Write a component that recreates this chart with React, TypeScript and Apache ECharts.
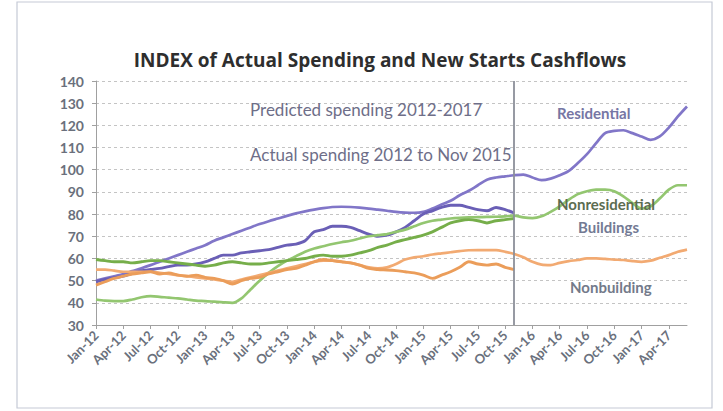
import React, { useEffect, useRef } from "react";
import * as echarts from "echarts";

const monthNames = ["Jan", "Feb", "Mar", "Apr", "May", "Jun", "Jul", "Aug", "Sep", "Oct", "Nov", "Dec"];
const years = ["12", "13", "14", "15", "16", "17"];
const lastMonthIndex = 65; // Jun-17
const categories: string[] = [];
for (const y of years) for (const m of monthNames) categories.push(`${m}-${y}`);
categories.length = lastMonthIndex + 1;

const cutoffCategory = "Nov-15";

const residentialPredicted = [
  50, 51, 52, 53, 54.3, 55.6, 57, 58.5, 60, 61.5, 63, 64.5,
  66, 68, 69.5, 71, 72.5, 74, 75.5, 76.8, 78, 79.2, 80.3, 81.2,
  82, 82.7, 83.2, 83.3, 83.2, 82.9, 82.5, 82, 81.5, 81, 80.7, 80.6,
  81, 82.5, 84.3, 86, 88.5, 90.5, 93, 95.5, 96.5, 97, 97.5, 97.8,
  96.5, 95.3, 96, 97.5, 99.5, 103, 107, 112, 116.5, 117.5, 117.8, 116.5,
  115, 113.5, 115, 119, 124, 128.5,
];
const residentialActual = [
  49.5, 50.5, 51.3, 52, 53.3, 54.5, 55, 55.5, 56.3, 57, 57, 57.5,
  58.5, 60, 61.5, 61.5, 62.5, 63, 63.5, 64, 65, 66, 66.5, 68,
  72, 73, 74.5, 74.5, 74, 72.5, 71, 70, 70.5, 72, 74, 77,
  80, 81.5, 83, 84, 84, 83, 82, 81.5, 83, 82, 80.5,
];
const nonresPredicted = [
  41.5, 41, 40.8, 40.8, 41.5, 42.5, 43, 42.7, 42.3, 42, 41.5, 41,
  40.8, 40.5, 40.2, 40, 42, 46, 50, 53.5, 56.5, 59, 61, 63,
  64.5, 65.5, 66.5, 67.3, 68, 69, 70, 70.5, 71, 72, 73, 74.5,
  76, 77, 77.5, 78, 78.3, 78.5, 78.6, 78.7, 78.8, 79, 79.3, 78.5,
  78.2, 79, 81, 83.5, 86.5, 89, 90.3, 91, 91, 90.3, 88, 85,
  82.5, 83.5, 87, 91, 93, 93,
];
const nonresActual = [
  59.5, 59, 58.5, 58.5, 58, 58.5, 59, 59, 58.5, 58, 57.5, 57,
  56.5, 57, 58, 58.5, 58, 57.5, 57.5, 58, 58.5, 59, 59.5, 60,
  61, 61.5, 61, 61, 61.5, 62.5, 63.5, 65, 66, 67.5, 68.5, 69.5,
  70.5, 72, 74, 76, 77, 77.5, 77, 76, 77, 77.5, 78,
];
const nonbuildingPredicted = [
  55, 55, 54.5, 54, 54, 54, 54, 53.5, 53, 52.5, 52, 51.5,
  51, 50.5, 50, 49.5, 50.5, 51.5, 52.5, 53.5, 54.5, 55.5, 56.5, 57.5,
  58.5, 59, 59, 58.5, 58, 57, 56, 55.5, 56, 57.5, 59.5, 60.5,
  61, 61.8, 62.3, 62.8, 63.3, 63.7, 63.8, 63.8, 63.8, 63, 62, 60.5,
  58.5, 57.2, 57, 58, 58.8, 59.3, 60, 60, 59.8, 59.5, 59.3, 58.8,
  58.5, 59, 60.3, 61.5, 63, 64,
];
const nonbuildingActual = [
  48, 49.5, 51, 52, 53, 53.5, 54, 53, 53.5, 52.5, 52, 52.5,
  51.5, 51, 50, 48.5, 50, 51, 51.5, 53, 54, 55, 55.5, 57,
  58.5, 59.5, 59, 58.5, 58, 57, 55.5, 55, 54.8, 54.5, 54, 53.5,
  52.5, 51, 52.5, 54, 56, 58.5, 57.5, 57, 57.5, 56, 55,
];

const titleText = "INDEX of Actual Spending and New Starts Cashflows";

export default function App() {
  const ref = useRef<HTMLDivElement>(null);
  useEffect(() => {
    if (!ref.current) return;
    const chart = echarts.init(ref.current, null, { renderer: "svg" });
    const line = (name: string, data: number[], color: string, width: number) => ({
      name,
      type: "line",
      data,
      symbol: "none",
      smooth: 0.3,
      lineStyle: { color, width },
      itemStyle: { color },
      z: 3,
    });
    const annotate = (text: string, x: number, y: number, color: string, size: number, weight: string) => ({
      type: "text",
      left: x,
      top: y,
      z: 10,
      style: {
        text,
        fill: color,
        font: `${weight} ${size}px Lato, "Open Sans", sans-serif`,
      },
    });
    chart.setOption({
      animation: false,
      backgroundColor: "#ffffff",
      title: {
        text: titleText,
        left: 375,
        textAlign: "center",
        top: 45,
        textStyle: { fontSize: 19, fontWeight: "bold", color: "#2e2e2e", fontFamily: "'Open Sans', Lato, sans-serif" },
      },
      grid: { left: 96, right: 36, top: 81, bottom: 86 },
      xAxis: {
        type: "category",
        data: categories,
        boundaryGap: false,
        axisLine: { lineStyle: { color: "#a0a0a0", width: 1 } },
        axisTick: { interval: 2, length: 4, lineStyle: { color: "#a0a0a0" } },
        axisLabel: {
          interval: 2,
          rotate: 45,
          color: "#6a707c",
          fontSize: 13,
          fontWeight: "bold",
          margin: 8,
          fontFamily: "Lato, 'Open Sans', sans-serif",
        },
        splitLine: { show: false },
      },
      yAxis: {
        type: "value",
        min: 30,
        max: 140,
        interval: 10,
        axisLine: { show: true, lineStyle: { color: "#a0a0a0" } },
        axisTick: { show: true, length: 4, lineStyle: { color: "#a0a0a0" } },
        axisLabel: { color: "#6a707c", fontSize: 14, fontWeight: "bold", margin: 12, fontFamily: "Lato, 'Open Sans', sans-serif" },
        splitLine: { lineStyle: { color: "#c4c4c4", type: [3, 3], width: 1 } },
      },
      series: [
        {
          ...line("Residential – predicted 2012-2017", residentialPredicted, "#8176c8", 2.7),
          markLine: {
            silent: true,
            symbol: "none",
            label: { show: false },
            lineStyle: { color: "#8c8f99", width: 1.8, type: "solid" },
            data: [{ xAxis: cutoffCategory }],
          },
        },
        line("Residential – actual to Nov 2015", residentialActual, "#6a5fb6", 2.9),
        line("Nonresidential Buildings – predicted 2012-2017", nonresPredicted, "#93c670", 2.7),
        line("Nonresidential Buildings – actual to Nov 2015", nonresActual, "#76ae4a", 2.9),
        line("Nonbuilding – predicted 2012-2017", nonbuildingPredicted, "#f2aa72", 2.7),
        line("Nonbuilding – actual to Nov 2015", nonbuildingActual, "#eb9d5a", 2.9),
      ],
      graphic: [
        {
          type: "rect",
          shape: { x: 17, y: 2, width: 695, height: 406 },
          style: { fill: "none", stroke: "#c5cad6", lineWidth: 1.2 },
          z: 0,
        },
        annotate("Predicted spending 2012-2017", 250, 101, "#6e6e88", 17, "normal"),
        annotate("Actual spending 2012 to Nov 2015", 250, 146, "#6e6e88", 17, "normal"),
        annotate("Residential", 557, 105, "#7676a4", 15, "bold"),
        annotate("Nonresidential", 557, 196, "#5c6c50", 15, "bold"),
        annotate("Buildings", 578, 219, "#737a94", 15, "bold"),
        annotate("Nonbuilding", 570, 279, "#737a8a", 15, "bold"),
      ],
    });
    return () => chart.dispose();
  }, []);
  return (
    <div
      ref={ref}
      style={{ position: "fixed", left: 0, top: 0, width: 723, height: 411 }}
    />
  );
}
